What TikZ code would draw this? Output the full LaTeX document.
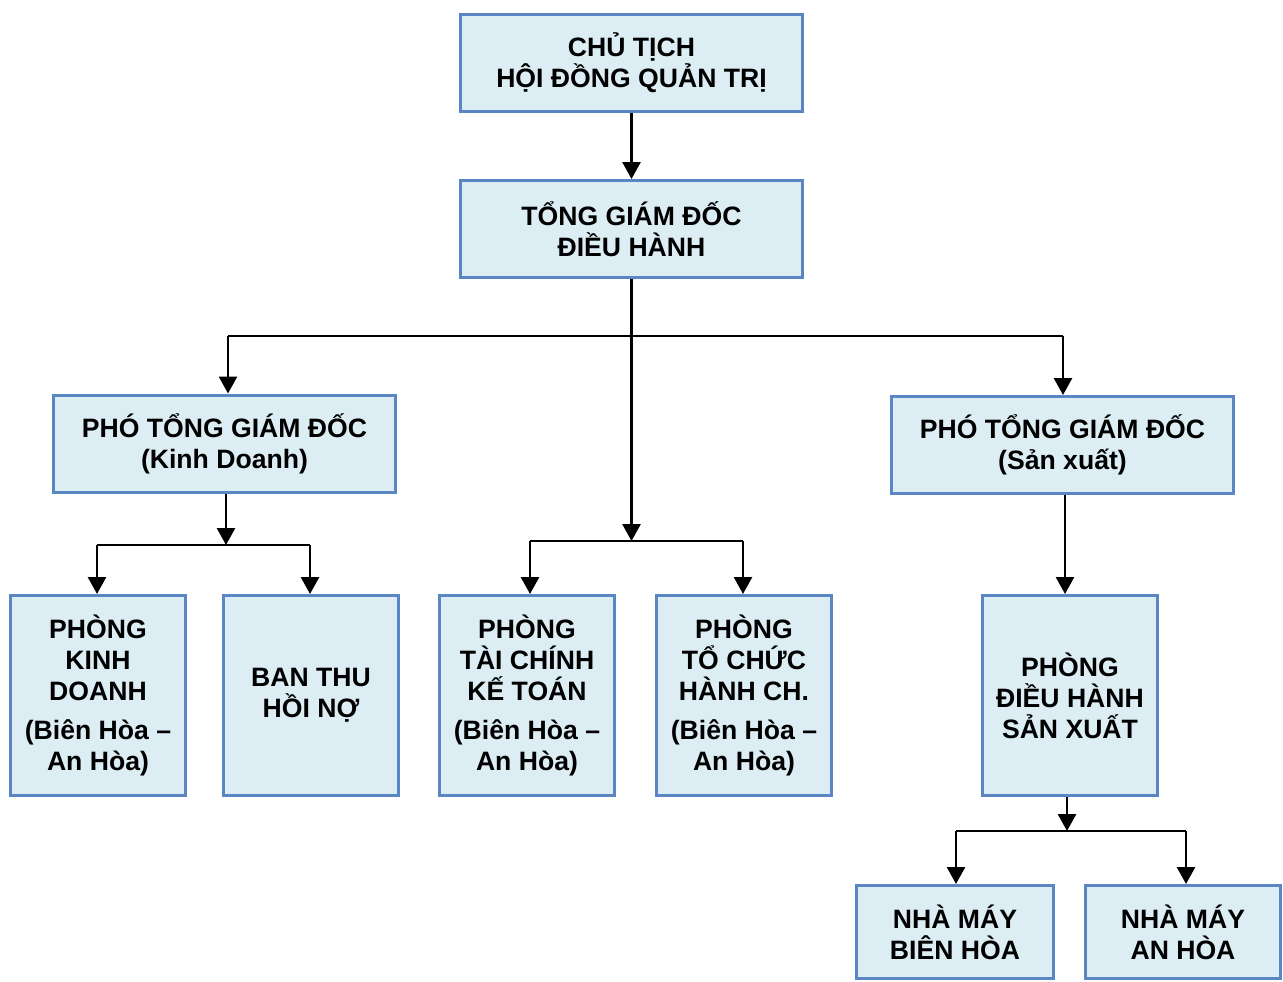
\documentclass[tikz,border=0pt]{standalone}
\usepackage{fontspec}
\setmainfont{Liberation Sans}
\usetikzlibrary{arrows.meta}
\definecolor{boxfill}{HTML}{DCEDF4}
\definecolor{boxline}{HTML}{5A86C4}
\begin{document}
\begin{tikzpicture}[x=1pt,y=-1pt,
  box/.style={draw=boxline,fill=boxfill,line width=3pt,inner sep=0pt,align=center,
    font=\fontsize{26.6}{31}\selectfont\bfseries},
  wide/.style={box,minimum width=342pt,minimum height=97pt},
  tall/.style={box,minimum width=175pt,minimum height=200pt},
  low/.style={box,minimum height=93pt},
  conn/.style={line width=2.8pt},
  arr/.style={conn,-{Triangle[length=17pt,width=18pt]}}]
\useasboundingbox (0,0) rectangle (1283,982);
% nodes
\node[wide] (ct) at (631.5,63) {CHỦ TỊCH\\HỘI ĐỒNG QUẢN TRỊ};
\node[wide] (tgd) at (631.5,229) {TỔNG GIÁM ĐỐC\\ĐIỀU HÀNH};
\node[wide] (ptkd) at (224.5,443.5) {PHÓ TỔNG GIÁM ĐỐC\\(Kinh Doanh)};
\node[wide] (ptsx) at (1062.5,445) {PHÓ TỔNG GIÁM ĐỐC\\(Sản xuất)};
\node[tall] (pkd) at (98,695.5) {PHÒNG\\KINH\\DOANH\\[8pt](Biên Hòa –\\An Hòa)};
\node[tall] (btn) at (311,695.5) {BAN THU\\HỒI NỢ};
\node[tall] (ptc) at (527,695.5) {PHÒNG\\TÀI CHÍNH\\KẾ TOÁN\\[8pt](Biên Hòa –\\An Hòa)};
\node[tall] (ptchc) at (744,695.5) {PHÒNG\\TỔ CHỨC\\HÀNH CH.\\[8pt](Biên Hòa –\\An Hòa)};
\node[tall] (dhsx) at (1070,695.5) {PHÒNG\\ĐIỀU HÀNH\\SẢN XUẤT};
\node[low,minimum width=197pt] (nmbh) at (955,932) {NHÀ MÁY\\BIÊN HÒA};
\node[low,minimum width=195pt] (nmah) at (1183,932) {NHÀ MÁY\\AN HÒA};
% bus coordinates
\coordinate (b1) at (631.5,336);
\coordinate (b1l) at (228,336);
\coordinate (b1r) at (1063,336);
\coordinate (b2) at (631.5,541);
\coordinate (b2l) at (530,541);
\coordinate (b2r) at (743,541);
\coordinate (b3) at (226,545);
\coordinate (b3l) at (97,545);
\coordinate (b3r) at (310,545);
\coordinate (b4) at (1067,831);
\coordinate (b4l) at (956,831);
\coordinate (b4r) at (1186,831);
% connectors
\draw[arr] (ct.south) -- (tgd.north);
\draw[arr] (tgd.south) -- (b2);
\draw[conn] (b1l) -- (b1r);
\draw[arr] (b1l) -- (b1l |- ptkd.north);
\draw[arr] (b1r) -- (b1r |- ptsx.north);
\draw[conn] (b2l) -- (b2r);
\draw[arr] (b2l) -- (b2l |- ptc.north);
\draw[arr] (b2r) -- (b2r |- ptchc.north);
\draw[arr] (ptkd.south -| b3) -- (b3);
\draw[conn] (b3l) -- (b3r);
\draw[arr] (b3l) -- (b3l |- pkd.north);
\draw[arr] (b3r) -- (b3r |- btn.north);
\draw[arr] (ptsx.south -| 1065,0) -- (dhsx.north -| 1065,0);
\draw[arr] (dhsx.south -| b4) -- (b4);
\draw[conn] (b4l) -- (b4r);
\draw[arr] (b4l) -- (b4l |- nmbh.north);
\draw[arr] (b4r) -- (b4r |- nmah.north);
\end{tikzpicture}
\end{document}
